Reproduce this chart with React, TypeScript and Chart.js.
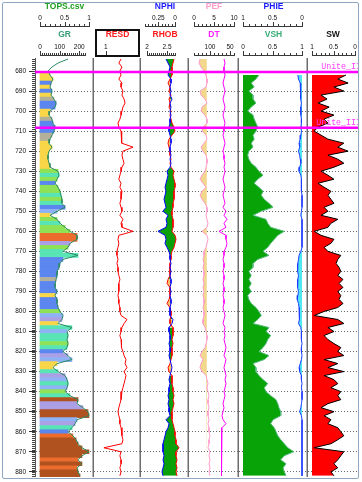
import React, { useEffect, useRef } from 'react';
import { Chart, registerables } from 'chart.js';

Chart.register(...registerables);

// ---------------- data ----------------
const DEPTH = [
  674, 676, 678, 680, 682, 684, 686, 688, 690, 692,
  694, 696, 698, 700, 702, 704, 706, 708, 710, 712,
  714, 716, 718, 720, 722, 724, 726, 728, 730, 732,
  734, 736, 738, 740, 742, 744, 746, 748, 750, 752,
  754, 756, 758, 760, 762, 764, 766, 768, 770, 772,
  774, 776, 778, 780, 782, 784, 786, 788, 790, 792,
  794, 796, 798, 800, 802, 804, 806, 808, 810, 812,
  814, 816, 818, 820, 822, 824, 826, 828, 830, 832,
  834, 836, 838, 840, 842, 844, 846, 848, 850, 852,
  854, 856, 858, 860, 862, 864, 866, 868, 870, 872,
  874, 876, 878, 880, 882,
];

const DEPTH_TICKS = [680, 690, 700, 710, 720, 730, 740, 750, 760, 770, 780, 790, 800, 810, 820, 830, 840, 850, 860, 870, 880];

const GR = [
  143, 92, 61, 41, 51, 66, 56, 51, 61, 56,
  71, 82, 77, 51, 46, 61, 66, 77, 71, 61,
  51, 46, 61, 46, 41, 41, 46, 51, 92, 97,
  87, 77, 92, 102, 107, 112, 112, 128, 87, 51,
  87, 102, 128, 153, 189, 189, 153, 143, 117, 194,
  117, 102, 97, 87, 87, 82, 77, 77, 87, 77,
  87, 87, 92, 102, 117, 112, 92, 163, 138, 143,
  138, 143, 138, 117, 143, 163, 87, 66, 92, 128,
  138, 143, 138, 128, 153, 194, 189, 219, 245, 250,
  189, 179, 163, 143, 168, 184, 194, 214, 250, 214,
  194, 214, 189, 194, 204,
];

const LITH = [
  'N', 'N', 'N', 'N', 'Y', 'Y', 'B', 'Y', 'B', 'Y',
  'S', 'B', 'B', 'Y', 'Y', 'S', 'B', 'B', 'B', 'S',
  'S', 'Y', 'Y', 'Y', 'Y', 'Y', 'Y', 'Y', 'L', 'T',
  'L', 'B', 'L', 'L', 'T', 'L', 'T', 'B', 'C', 'Y',
  'L', 'T', 'L', 'L', 'O', 'O', 'V', 'L', 'T', 'T',
  'B', 'B', 'B', 'B', 'B', 'S', 'B', 'B', 'B', 'Y',
  'B', 'B', 'B', 'L', 'C', 'V', 'Y', 'T', 'C', 'T',
  'T', 'L', 'T', 'B', 'V', 'C', 'Y', 'Y', 'T', 'V',
  'C', 'T', 'C', 'L', 'T', 'R', 'V', 'V', 'R', 'R',
  'C', 'V', 'T', 'B', 'O', 'R', 'R', 'R', 'R', 'R',
  'O', 'R', 'O', 'R', 'R',
];

const RESD = [
  20, 13, 24, 16, 20, 13, 24, 20, 29, 24,
  36, 44, 29, 24, 20, 16, 11, 13, 20, 24,
  20, 24, 210, 29, 24, 29, 36, 24, 20, 16,
  13, 20, 16, 24, 20, 20, 16, 20, 24, 16,
  29, 20, 24, 210, 13, 11, 13, 11, 9, 9,
  11, 9, 11, 11, 13, 16, 13, 13, 13, 11,
  13, 13, 16, 16, 20, 64, 36, 24, 20, 16,
  20, 24, 20, 29, 36, 53, 44, 64, 36, 53,
  44, 36, 29, 24, 20, 20, 16, 13, 11, 13,
  16, 16, 20, 24, 24, 29, 24, 0.7, 20, 16,
  20, 20, 16, 20, 16,
];

const NPHI = [
  0.135, 0.105, 0.075, 0.09, 0.105, 0.06, 0.06, 0.075, 0.06, 0.075,
  0.045, 0.075, 0.06, 0.075, 0.06, 0.075, 0.075, 0.09, 0.09, 0.075,
  0.06, 0.06, 0.075, 0.075, 0.06, 0.075, 0.06, 0.075, 0.12, 0.105,
  0.12, 0.135, 0.15, 0.135, 0.15, 0.165, 0.15, 0.135, 0.18, 0.105,
  0.135, 0.12, 0.135, 0.255, 0.15, 0.135, 0.15, 0.12, 0.09, 0.075,
  0.075, 0.06, 0.075, 0.06, 0.075, 0.06, 0.06, 0.075, 0.06, 0.075,
  0.06, 0.06, 0.075, 0.075, 0.075, 0.03, 0.045, 0.09, 0.09, 0.075,
  0.075, 0.09, 0.075, 0.075, 0.09, 0.075, 0.06, 0.045, 0.06, 0.075,
  0.09, 0.075, 0.09, 0.09, 0.105, 0.09, 0.105, 0.09, 0.09, 0.075,
  0.135, 0.09, 0.105, 0.135, 0.15, 0.165, 0.18, 0.18, 0.18, 0.165,
  0.18, 0.165, 0.18, 0.195, 0.18,
];

const RHOB = [
  2.675, 2.65, 2.625, 2.625, 2.625, 2.575, 2.525, 2.575, 2.55, 2.6,
  2.55, 2.575, 2.55, 2.6, 2.575, 2.6, 2.625, 2.675, 2.7, 2.625,
  2.55, 2.525, 2.55, 2.575, 2.575, 2.6, 2.575, 2.6, 2.675, 2.65,
  2.675, 2.7, 2.7, 2.675, 2.675, 2.675, 2.65, 2.65, 2.625, 2.625,
  2.65, 2.65, 2.65, 2.625, 2.7, 2.725, 2.7, 2.675, 2.625, 2.6,
  2.6, 2.575, 2.575, 2.575, 2.575, 2.525, 2.5, 2.575, 2.575, 2.575,
  2.55, 2.5, 2.575, 2.6, 2.6, 2.575, 2.575, 2.65, 2.65, 2.65,
  2.625, 2.65, 2.625, 2.625, 2.625, 2.6, 2.575, 2.525, 2.55, 2.625,
  2.625, 2.625, 2.65, 2.65, 2.675, 2.65, 2.675, 2.65, 2.625, 2.625,
  2.625, 2.65, 2.675, 2.7, 2.7, 2.725, 2.725, 2.8, 2.725, 2.725,
  2.75, 2.725, 2.75, 2.725, 2.75,
];

const PEF = [
  1.5, 1.25, 1.75, 2.5, 3.0, 3.25, 3.25, 3.0, 1.5, 1.75,
  2.75, 3.25, 2.0, 1.75, 2.75, 3.25, 3.25, 2.25, 2.0, 3.0,
  3.25, 2.5, 1.75, 2.25, 3.0, 3.25, 3.25, 3.0, 2.75, 2.0,
  1.5, 2.25, 3.0, 2.0, 1.5, 2.0, 2.75, 3.25, 3.25, 3.0,
  3.25, 3.5, 3.25, 2.0, 3.25, 3.5, 3.25, 3.0, 2.5, 2.5,
  2.25, 2.5, 2.25, 2.5, 2.5, 2.25, 2.5, 2.25, 2.5, 2.25,
  2.5, 2.5, 2.25, 2.5, 2.5, 2.25, 2.25, 2.75, 3.0, 3.25,
  3.25, 3.0, 2.75, 2.0, 1.5, 2.25, 1.75, 1.5, 2.0, 3.0,
  3.25, 3.5, 3.25, 3.5, 3.75, 3.5, 3.5, 3.75, 3.5, 3.5,
  3.75, 3.5, 3.75, 3.75, 4.0, 3.75, 3.75, 3.5, 4.0, 3.75,
  4.0, 3.75, 4.0, 3.75, 4.0,
];
const PEF_CUTOFF = 3.2;

const DT = [
  65, 62.5, 65, 65, 62.5, 65, 67.5, 65, 62.5, 65,
  67.5, 65, 62.5, 65, 67.5, 65, 62.5, 65, 65, 67.5,
  65, 62.5, 65, 67.5, 65, 65, 62.5, 65, 62.5, 65,
  67.5, 65, 62.5, 65, 67.5, 65, 62.5, 67.5, 60, 65,
  57.5, 65, 60, 77.5, 60, 60, 57.5, 60, 65, 65,
  67.5, 65, 65, 67.5, 65, 65, 67.5, 65, 65, 67.5,
  65, 65, 67.5, 65, 62.5, 65, 67.5, 62.5, 65, 62.5,
  65, 62.5, 60, 62.5, 65, 60, 62.5, 65, 62.5, 60,
  62.5, 60, 62.5, 65, 62.5, 65, 67.5, 65, 67.5, 70,
  67.5, 60, 70, 70, 72.5, 70, 72.5, 70, 72.5, 70,
  72.5, 70, 72.5, 70, 72.5,
];

const VSH = [
  null, null, null, null, 0.27, 0.22, 0.14, 0.19, 0.1, 0.17,
  0.17, 0.22, 0.14, 0.08, 0.17, 0.19, 0.22, 0.25, 0.22, 0.17,
  0.19, 0.14, 0.17, 0.1, 0.08, 0.1, 0.14, 0.22, 0.27, 0.34,
  0.25, 0.19, 0.27, 0.34, 0.31, 0.36, 0.44, 0.51, 0.31, 0.17,
  0.39, 0.42, 0.47, 0.7, 0.59, 0.53, 0.47, 0.42, 0.34, 0.44,
  0.25, 0.17, 0.17, 0.1, 0.14, 0.1, 0.14, 0.1, 0.14, 0.08,
  0.1, 0.14, 0.22, 0.27, 0.31, 0.25, 0.17, 0.44, 0.39, 0.47,
  0.42, 0.39, 0.34, 0.27, 0.44, 0.36, 0.17, 0.22, 0.22, 0.27,
  0.34, 0.42, 0.36, 0.39, 0.47, 0.56, 0.59, 0.61, 0.64, 0.64,
  0.51, 0.47, 0.53, 0.56, 0.59, 0.64, 0.7, 0.76, 0.86, 0.7,
  0.64, 0.73, 0.68, 0.7, 0.73,
];

const PHIE = [
  null, null, null, null, 0.07, 0.06, 0.03, 0.02, 0.03, 0.02,
  0.02, 0.01, 0.02, 0.02, 0.02, 0.01, 0.01, 0.02, 0.01, 0.02,
  0.03, 0.05, 0.04, 0.06, 0.04, 0.03, 0.02, 0.04, 0.05, 0.02,
  0.01, 0.01, 0.01, 0.01, 0.0, 0.0, 0.0, 0.0, 0.01, 0.02,
  0.0, 0.0, 0.0, 0.0, 0.0, 0.0, 0.0, 0.0, 0.02, 0.05,
  0.06, 0.07, 0.08, 0.07, 0.06, 0.07, 0.08, 0.07, 0.06, 0.07,
  0.08, 0.06, 0.05, 0.04, 0.05, 0.04, 0.06, 0.02, 0.01, 0.01,
  0.01, 0.0, 0.01, 0.01, 0.0, 0.01, 0.03, 0.05, 0.04, 0.01,
  0.01, 0.0, 0.01, 0.0, 0.0, 0.0, 0.01, 0.02, 0.04, 0.01,
  0.0, 0.0, 0.0, 0.0, 0.0, 0.0, 0.0, 0.0, 0.0, 0.0,
  0.0, 0.0, 0.0, 0.0, 0.0,
];

const SW = [
  null, null, null, null, 0.21, 0.4, 0.16, 0.49, 0.26, 0.79,
  0.65, 0.86, 0.6, 0.79, 0.49, 0.72, 0.63, 0.86, 0.95, 0.79,
  0.63, 0.26, 0.4, 0.16, 0.63, 0.4, 0.26, 0.49, 0.79, 0.63,
  0.49, 0.86, 0.72, 0.56, 0.63, 0.56, 0.49, 0.72, 0.63, 0.79,
  0.4, 0.56, 0.63, 0.95, 0.79, 0.49, 0.56, 0.72, 0.63, 0.33,
  0.4, 0.44, 0.37, 0.33, 0.4, 0.28, 0.37, 0.28, 0.4, 0.33,
  0.37, 0.28, 0.4, 0.72, 0.95, 0.4, 0.26, 0.63, 0.49, 0.72,
  0.63, 0.49, 0.33, 0.4, 0.26, 0.72, 0.4, 0.63, 0.26, 0.72,
  0.49, 0.4, 0.56, 0.33, 0.4, 0.33, 0.63, 0.79, 0.49, 0.72,
  0.56, 0.63, 0.4, 0.33, 0.26, 0.4, 0.56, 0.95, 0.26, 0.33,
  0.4, 0.49, 0.4, 0.56, 0.49,
];

const TOP_NAMES = ['Unite_II', 'Unite_III'];
const TOP_DEPTHS = [680.5, 708.3];

// ---------------- styles / layout ----------------
const LITH_COLORS: Record<string, string> = {
  N: 'rgba(0,0,0,0)',
  Y: '#f9d648',
  B: '#5b86ef',
  C: '#8eb2f4',
  L: '#8fe256',
  T: '#58e4b4',
  V: '#ab9fe6',
  S: '#b4b19b',
  O: '#ec6c2e',
  R: '#b0521f',
};

const FONT = "'Liberation Sans', Arial, sans-serif";
const Y_MIN = 673.5;
const Y_MAX = 882.6;
const CANVAS_H = 477;

interface AxisDef {
  id: string;
  row: 1 | 2;
  title: string;
  color: string;
  vL: number;
  vR: number;
  log?: boolean;
  labels: number[];
  ruler?: [number, number, number];
}

interface TrackDef {
  key: string;
  areaL: number;
  areaR: number;
  innerL: number;
  innerR: number;
  depthAxis?: boolean;
  rightBorder: boolean;
  boxed?: boolean;
  topLabels?: boolean;
  axes: AxisDef[];
  datasets: () => any[];
}

const pts = (values: (number | null)[]) => DEPTH.map((d, i) => ({ x: values[i], y: d }));

function crossColor(i: number) {
  const n = (0.45 - NPHI[i]) / 0.6;
  const r = (RHOB[i] - 1.95) / 1.0;
  return n <= r ? '#0aa00a' : '#f5c46a';
}

const lineBase = { type: 'line', indexAxis: 'y', yAxisID: 'y', pointRadius: 0, tension: 0, borderWidth: 1 };

const TRACKS: TrackDef[] = [
  {
    key: 'gr', areaL: 35, areaR: 94, innerL: 40, innerR: 89, depthAxis: true, rightBorder: true,
    axes: [
      { id: 'xTops', row: 1, title: 'TOPS.csv', color: '#1f9f1f', vL: 0, vR: 1, labels: [0, 0.5, 1], ruler: [0, 1, 0.1] },
      { id: 'xGR', row: 2, title: 'GR', color: '#3a9e78', vL: 0, vR: 250, labels: [0, 100, 200], ruler: [0, 230, 10] },
    ],
    datasets: () => [
      {
        type: 'bar', indexAxis: 'y', xAxisID: 'xGR', yAxisID: 'y', data: pts(GR),
        backgroundColor: LITH.map((c) => LITH_COLORS[c]), borderWidth: 0,
        barPercentage: 1, categoryPercentage: 1, order: 2,
      },
      { ...lineBase, xAxisID: 'xGR', data: pts(GR), borderColor: '#2c8a62', fill: false, order: 1 },
    ],
  },
  {
    key: 'resd', areaL: 94, areaR: 141, innerL: 94, innerR: 141, rightBorder: true, boxed: true,
    axes: [
      { id: 'xRESD', row: 2, title: 'RESD', color: '#ff1a1a', vL: 0.1, vR: 1000, log: true, labels: [1] },
    ],
    datasets: () => [
      { ...lineBase, xAxisID: 'xRESD', data: pts(RESD), borderColor: '#ff0000', fill: false },
    ],
  },
  {
    key: 'rhob', areaL: 141, areaR: 189, innerL: 145, innerR: 185, rightBorder: true,
    axes: [
      { id: 'xNPHI', row: 1, title: 'NPHI', color: '#1a1aff', vL: 0.45, vR: -0.15, labels: [0.25, 0], ruler: [0.45, 0, 0.05] },
      { id: 'xRHOB', row: 2, title: 'RHOB', color: '#ff1a1a', vL: 1.95, vR: 2.95, labels: [2, 2.5], ruler: [2, 2.7, 0.05] },
    ],
    datasets: () => [
      {
        ...lineBase, xAxisID: 'xNPHI', data: pts(NPHI), borderColor: '#0000ff',
        fill: '+1', backgroundColor: '#0aa00a',
        segment: { backgroundColor: (c: any) => crossColor(c.p0DataIndex) },
      },
      { ...lineBase, xAxisID: 'xRHOB', data: pts(RHOB), borderColor: '#ff0000', fill: false },
    ],
  },
  {
    key: 'dt', areaL: 189, areaR: 239, innerL: 194, innerR: 234, rightBorder: true,
    axes: [
      { id: 'xPEF', row: 1, title: 'PEF', color: '#ff9ccb', vL: 0, vR: 10, labels: [0, 5, 10], ruler: [0, 10, 1] },
      { id: 'xDT', row: 2, title: 'DT', color: '#ff22ff', vL: 140, vR: 40, labels: [100, 50], ruler: [140, 40, 10] },
    ],
    datasets: () => [
      {
        ...lineBase, xAxisID: 'xPEF', data: pts(PEF.map((v) => Math.min(v, PEF_CUTOFF))),
        borderColor: 'rgba(0,0,0,0)', fill: { value: PEF_CUTOFF }, backgroundColor: '#f2d88c',
      },
      { ...lineBase, xAxisID: 'xPEF', data: pts(PEF), borderColor: '#ff99cc', fill: false },
      { ...lineBase, xAxisID: 'xDT', data: pts(DT), borderColor: '#ff00ff', fill: false },
    ],
  },
  {
    key: 'vsh', areaL: 239, areaR: 308, innerL: 243, innerR: 302, rightBorder: true,
    axes: [
      { id: 'xPHIE', row: 1, title: 'PHIE', color: '#1a1aff', vL: 1, vR: 0, labels: [1, 0.5, 0], ruler: [1, 0, 0.1] },
      { id: 'xVSH', row: 2, title: 'VSH', color: '#3aae78', vL: 0, vR: 1, labels: [0, 0.5, 1], ruler: [0, 1, 0.1] },
    ],
    datasets: () => [
      { ...lineBase, xAxisID: 'xVSH', data: pts(VSH), borderColor: '#5dbb84', fill: { value: 0 }, backgroundColor: '#07a307' },
      { ...lineBase, xAxisID: 'xPHIE', data: pts(PHIE), borderColor: '#1f3cff', fill: { value: 0 }, backgroundColor: '#52e6f0' },
    ],
  },
  {
    key: 'sw', areaL: 308, areaR: 358, innerL: 312, innerR: 355, rightBorder: false, topLabels: true,
    axes: [
      { id: 'xSW', row: 2, title: 'SW', color: '#111111', vL: 1, vR: 0, labels: [1, 0.5, 0], ruler: [1, 0, 0.1] },
    ],
    datasets: () => [
      { ...lineBase, xAxisID: 'xSW', data: pts(SW), borderColor: '#000000', fill: { value: 1 }, backgroundColor: '#ff0000' },
    ],
  },
];

function axisRange(t: TrackDef, ax: AxisDef) {
  const f = ax.log ? Math.log10 : (v: number) => v;
  const inv = ax.log ? (v: number) => Math.pow(10, v) : (v: number) => v;
  const a = f(ax.vL);
  const b = f(ax.vR);
  const ppu = (t.innerR - t.innerL) / (b - a);
  const atL = a + (t.areaL - t.innerL) / ppu;
  const atR = a + (t.areaR - t.innerL) / ppu;
  return { min: inv(Math.min(atL, atR)), max: inv(Math.max(atL, atR)), reverse: atL > atR };
}

function zeroPad(s: any) {
  s.paddingLeft = 0;
  s.paddingRight = 0;
  s.paddingTop = 0;
  s.paddingBottom = 0;
}

function trackPlugin(t: TrackDef) {
  return {
    id: 'track_' + t.key,
    afterDraw(chart: any) {
      const ctx = chart.ctx as CanvasRenderingContext2D;
      const area = chart.chartArea;
      const y = chart.scales.y;
      ctx.save();
      // header rulers
      ctx.lineWidth = 1;
      ctx.strokeStyle = '#3a3a3a';
      for (const ax of t.axes) {
        const s = chart.scales[ax.id];
        const base = Math.round(s.bottom - 3) + 0.5;
        const px = (v: number) => Math.round(s.getPixelForValue(v)) + 0.5;
        ctx.beginPath();
        if (ax.ruler) {
          const [from, to, step] = ax.ruler;
          const n = Math.round(Math.abs(to - from) / step);
          const dir = to >= from ? 1 : -1;
          const p0 = px(from);
          const p1 = px(to);
          ctx.moveTo(Math.min(p0, p1) - 0.5, base);
          ctx.lineTo(Math.max(p0, p1) + 0.5, base);
          for (let k = 0; k <= n; k++) {
            const x = px(from + dir * k * step);
            ctx.moveTo(x, base);
            ctx.lineTo(x, base - 2.5);
          }
        }
        for (const v of ax.labels) {
          const x = px(v);
          ctx.moveTo(x, base);
          ctx.lineTo(x, base - 4.5);
        }
        ctx.stroke();
      }
      // selected-track box
      if (t.boxed) {
        const s = chart.scales[t.axes[0].id];
        ctx.lineWidth = 2;
        ctx.strokeStyle = '#111';
        ctx.strokeRect(s.left + 2, s.top + 1, s.width - 4, s.height - 3);
      }
      // depth ruler minor ticks
      if (t.depthAxis) {
        ctx.lineWidth = 1;
        ctx.strokeStyle = '#444';
        ctx.beginPath();
        for (let d = Math.ceil(y.min); d <= Math.floor(y.max); d++) {
          const py = Math.round(y.getPixelForValue(d)) + 0.5;
          ctx.moveTo(area.left - 3, py);
          ctx.lineTo(area.left, py);
        }
        ctx.stroke();
      }
      // track border
      if (t.rightBorder) {
        ctx.lineWidth = 1.5;
        ctx.strokeStyle = '#6c6c6c';
        ctx.beginPath();
        ctx.moveTo(area.right - 0.75, area.top);
        ctx.lineTo(area.right - 0.75, area.bottom);
        ctx.stroke();
      }
      // formation tops
      ctx.lineWidth = 2.5;
      ctx.strokeStyle = '#ff00ff';
      for (const d of TOP_DEPTHS) {
        const py = y.getPixelForValue(d);
        ctx.beginPath();
        ctx.moveTo(area.left, py);
        ctx.lineTo(area.right, py);
        ctx.stroke();
      }
      if (t.topLabels) {
        ctx.font = "8.3px 'Liberation Mono', monospace";
        ctx.fillStyle = '#ff3cff';
        ctx.textAlign = 'right';
        ctx.textBaseline = 'alphabetic';
        TOP_NAMES.forEach((name, i) => {
          ctx.fillText(name, area.right + 3, y.getPixelForValue(TOP_DEPTHS[i]) - 3);
        });
      }
      ctx.restore();
    },
  };
}

function buildChart(canvas: HTMLCanvasElement, t: TrackDef) {
  const hasRow1 = t.axes.some((a) => a.row === 1);
  const scales: any = {
    y: {
      type: 'linear',
      axis: 'y',
      position: 'left',
      min: Y_MIN,
      max: Y_MAX,
      reverse: true,
      offset: false,
      afterBuildTicks: (s: any) => {
        s.ticks = DEPTH_TICKS.map((v) => ({ value: v }));
      },
      afterFit: (s: any) => {
        s.width = t.depthAxis ? 32 : 0;
        zeroPad(s);
      },
      ticks: {
        display: !!t.depthAxis,
        autoSkip: false,
        padding: 3,
        color: '#111',
        font: { family: FONT, size: 6.5 },
        callback: (v: any) => String(v),
      },
      grid: {
        color: '#6a6a6a',
        lineWidth: 1,
        offset: false,
        drawTicks: !!t.depthAxis,
        tickLength: 6,
        tickColor: '#333',
        tickWidth: 1,
      },
      border: { display: !!t.depthAxis, color: '#555', width: 1, dash: [1, 2] },
    },
  };
  for (const ax of t.axes) {
    const r = axisRange(t, ax);
    scales[ax.id] = {
      type: ax.log ? 'logarithmic' : 'linear',
      axis: 'x',
      position: 'top',
      weight: ax.row === 1 ? 1 : 0,
      min: r.min,
      max: r.max,
      reverse: r.reverse,
      offset: false,
      afterBuildTicks: (s: any) => {
        s.ticks = ax.labels.map((v) => ({ value: v }));
      },
      afterFit: (s: any) => {
        s.height = ax.row === 1 ? 28 : 29;
        zeroPad(s);
      },
      ticks: {
        autoSkip: false,
        maxRotation: 0,
        minRotation: 0,
        padding: 7,
        color: '#111',
        font: { family: FONT, size: 6.5 },
        callback: (v: any) => String(v),
      },
      grid: { display: false, drawTicks: false, drawOnChartArea: false },
      border: { display: false },
      title: {
        display: true,
        text: ax.title,
        color: ax.color,
        font: { family: FONT, size: 8.5, weight: 'bold' },
        padding: { top: 1, bottom: 0 },
      },
    };
  }
  return new Chart(canvas, {
    type: (t.depthAxis ? 'bar' : 'line') as any,
    data: { datasets: t.datasets() },
    options: {
      responsive: false,
      animation: false,
      events: [],
      indexAxis: 'y',
      layout: { padding: { top: hasRow1 ? 1 : 29, left: 0, right: 0, bottom: 0 } },
      plugins: {
        legend: { display: false },
        tooltip: { enabled: false },
        filler: { drawTime: 'beforeDatasetsDraw', propagate: false },
      },
      scales,
    } as any,
    plugins: [trackPlugin(t)],
  });
}

export default function App() {
  const refs = useRef<(HTMLCanvasElement | null)[]>([]);
  useEffect(() => {
    const charts = TRACKS.map((t, i) => buildChart(refs.current[i] as HTMLCanvasElement, t));
    return () => {
      charts.forEach((c) => c.destroy());
    };
  }, []);
  return (
    <div style={{ position: 'fixed', left: 0, top: 0, width: 362, height: 482, background: '#ffffff', overflow: 'hidden' }}>
      {TRACKS.map((t, i) => {
        const left = t.depthAxis ? t.areaL - 32 : t.areaL;
        const w = t.areaR - left;
        return (
          <canvas
            key={t.key}
            ref={(el) => {
              refs.current[i] = el;
            }}
            width={w}
            height={CANVAS_H}
            style={{ position: 'absolute', left, top: 0, width: w, height: CANVAS_H, display: 'block' }}
          />
        );
      })}
      <div
        style={{
          position: 'absolute', left: 2, top: 2, width: 357, height: 477,
          border: '1px solid #8ea6c0', borderRadius: 2, boxSizing: 'border-box', pointerEvents: 'none',
        }}
      />
    </div>
  );
}
